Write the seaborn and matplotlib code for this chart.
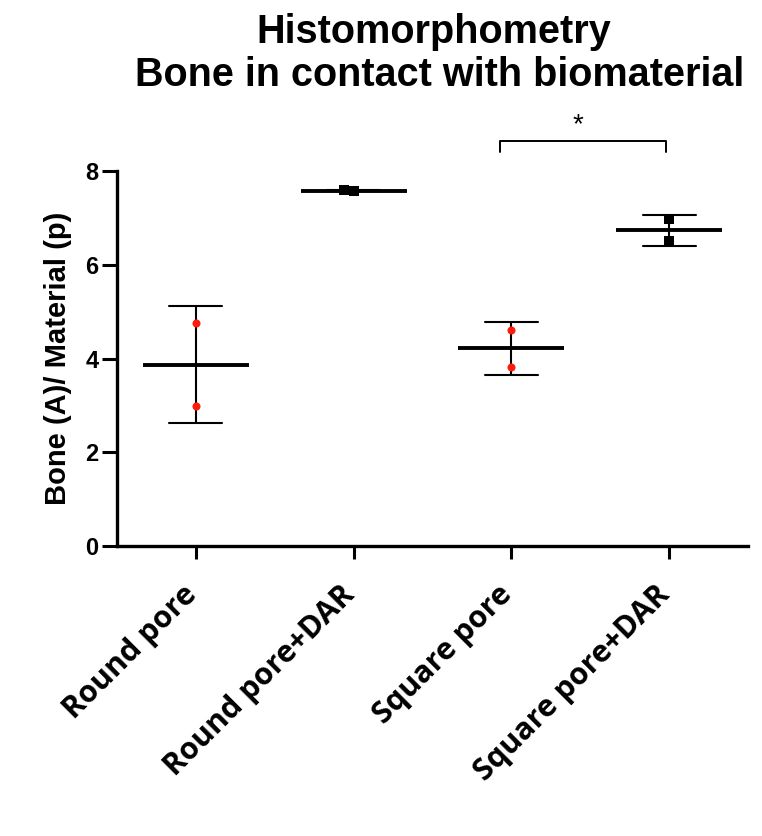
import numpy as np
import pandas as pd
import matplotlib
matplotlib.use("Agg")
import matplotlib.pyplot as plt
import matplotlib.transforms as mtransforms
import seaborn as sns

# Individual measurements per group (two samples each)
groups = ["Round pore", "Round pore+DAR", "Square pore", "Square pore+DAR"]
round_pore = [4.75, 2.99]
round_pore_dar = [7.57, 7.59]
square_pore = [4.61, 3.82]
square_pore_dar = [6.97, 6.50]
y_ticks = [0, 2, 4, 6, 8]
title_lines = ["Histomorphometry", "Bone in contact with biomaterial"]
y_label = "Bone (A)/ Material (p)"

df = pd.DataFrame({
    "group": np.repeat(groups, 2),
    "value": round_pore + round_pore_dar + square_pore + square_pore_dar,
})
plain = df[df["group"].isin(["Round pore", "Square pore"])]
dar = df[df["group"].isin(["Round pore+DAR", "Square pore+DAR"])]

sns.set_style("ticks")
plt.rcParams["font.family"] = ["Liberation Sans", "DejaVu Sans"]
for key in ["text.color", "axes.labelcolor", "xtick.color", "ytick.color", "axes.edgecolor"]:
    plt.rcParams[key] = "black"

fig = plt.figure(figsize=(7.62, 8.36), dpi=100)
ax = fig.add_axes([117 / 762, 1 - 546 / 836, (748 - 117) / 762, (546 - 171) / 836])

# mean line with SD error bars
sns.pointplot(data=df, x="group", y="value", order=groups, errorbar="sd",
              capsize=0.335, color="black", linestyle="none", marker="_",
              markersize=76, markeredgewidth=2.8,
              err_kws={"linewidth": 1.5}, ax=ax, zorder=2)

# individual points
sns.swarmplot(data=plain, x="group", y="value", order=groups, color="#ff1a0a",
              marker="o", size=5.8, linewidth=0, ax=ax, zorder=3)
sns.swarmplot(data=dar, x="group", y="value", order=groups, color="black",
              marker="s", size=6.5, linewidth=0, ax=ax, zorder=3)

ax.set_xlim(-0.5, 3.5)
ax.set_ylim(0, 8)
ax.set_yticks(y_ticks)
ax.set_xlabel("")
ax.set_ylabel(y_label, fontsize=21, fontweight="bold", labelpad=9)

for s in ["top", "right"]:
    ax.spines[s].set_visible(False)
for s in ["left", "bottom"]:
    ax.spines[s].set_linewidth(2.4)

ax.tick_params(axis="y", length=10.5, width=2.2, labelsize=17, pad=3)
ax.tick_params(axis="x", length=9.5, width=2.2, pad=12)
for lab in ax.get_yticklabels():
    lab.set_fontweight("bold")
ax.set_xticks(range(len(groups)))
ax.set_xticklabels(groups, rotation=45, ha="right", rotation_mode="anchor",
                   fontsize=22, fontweight="bold", family=["Open Sans", "DejaVu Sans"])
shift = mtransforms.ScaledTranslation(-0.14, -0.04, fig.dpi_scale_trans)
for lab in ax.get_xticklabels():
    lab.set_transform(lab.get_transform() + shift)

# significance bracket between the square-pore groups
bx = [1.93, 1.93, 2.98, 2.98]
by = [8.41, 8.63, 8.63, 8.41]
ax.plot(bx, by, color="black", linewidth=1.4, clip_on=False)
ax.text(2.42, 8.70, "*", ha="center", va="bottom", fontsize=20, clip_on=False)

# two-line title centred over the plot
fig.text(434 / 762, 1 - 43 / 836, title_lines[0], ha="center", va="baseline",
         fontsize=28.5, fontweight="bold")
fig.text(440 / 762, 1 - 86 / 836, title_lines[1], ha="center", va="baseline",
         fontsize=28.5, fontweight="bold")

fig.savefig("out.png", dpi=100, facecolor="white")
